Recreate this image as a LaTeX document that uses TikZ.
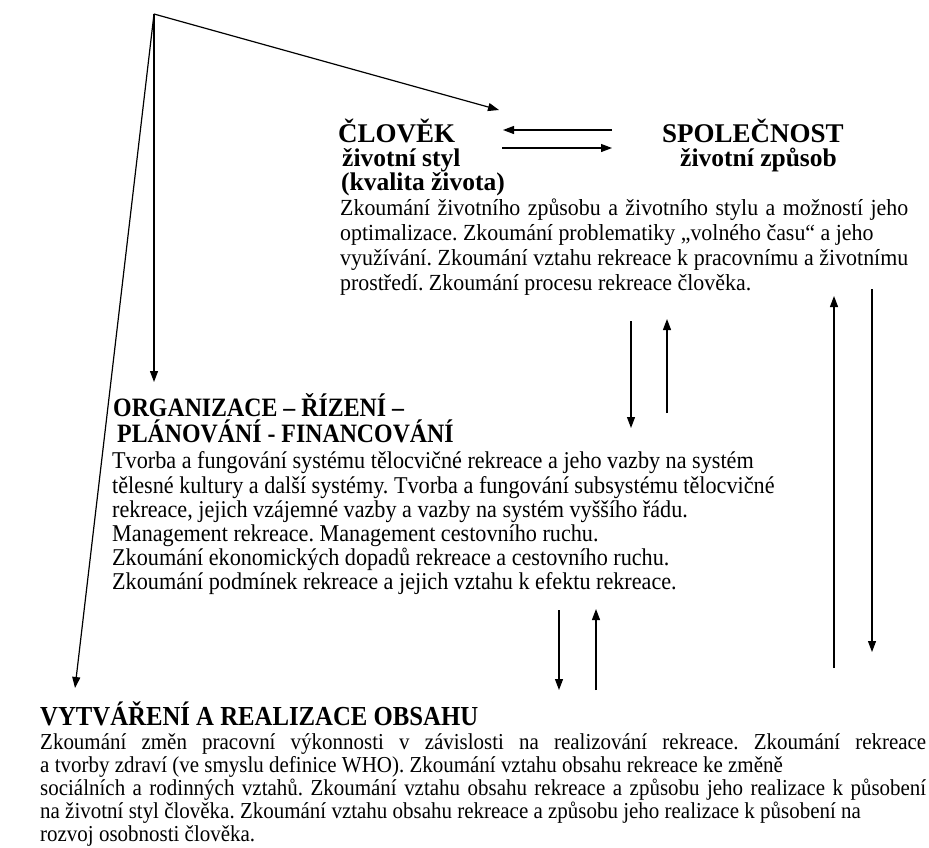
\documentclass[tikz,border=0pt]{standalone}
\usepackage{fontspec}
\setmainfont{Liberation Serif}
\newfontfamily\fonta{Liberation Serif}[FakeStretch=0.95]
\newfontfamily\fontb{Liberation Serif}[FakeStretch=0.92]
\newfontfamily\fonth{Liberation Serif}[FakeStretch=0.9]
\newcommand{\jline}[2]{\makebox[#1][s]{#2}}
\frenchspacing
\usetikzlibrary{arrows.meta}
\begin{document}
\begin{tikzpicture}[x=1pt,y=-1pt,
  txta/.style={anchor=base west,inner sep=0pt,font=\frenchspacing\fonta\fontsize{23.05}{25}\selectfont},
  txtb/.style={anchor=base west,inner sep=0pt,font=\frenchspacing\fontb\fontsize{24.1}{25}\selectfont},
  txtc/.style={anchor=base west,inner sep=0pt,font=\frenchspacing\fontb\fontsize{22.8}{25}\selectfont},
  head/.style={anchor=base west,inner sep=0pt,font=\fontsize{27}{30}\selectfont\bfseries},
  subhead/.style={anchor=base west,inner sep=0pt,font=\fontsize{25.5}{28}\selectfont\bfseries},
  chead/.style={anchor=base west,inner sep=0pt,font=\fonth\fontsize{26.5}{30}\selectfont\bfseries},
  arr/.style={line width=1.2pt,-{Triangle[length=11pt,width=8pt]}}]
\useasboundingbox (0,0) rectangle (929,847);

% top group
\node[head] (clovek) at (338,142) {ČLOVĚK};
\node[subhead] (styl) at (342,166) {životní styl};
\node[subhead] (kval) at (341,190) {(kvalita života)};
\node[head] (spol) at (662,142) {SPOLEČNOST};
\node[subhead] (zpusob) at (680,166) {životní způsob};

\node[txta] (a1) at (340,215) {\jline{568pt}{Zkoumání životního způsobu a životního stylu a možností jeho}};
\node[txta] (a2) at (340,240) {optimalizace. Zkoumání problematiky „volného času“ a jeho};
\node[txta] (a3) at (340,265) {\jline{568pt}{využívání. Zkoumání vztahu rekreace k pracovnímu a životnímu}};
\node[txta] (a4) at (340,290) {prostředí. Zkoumání procesu rekreace člověka.};

% middle group
\node[chead] (org1) at (113,416) {ORGANIZACE – ŘÍZENÍ –};
\node[chead] (org2) at (117,442) {PLÁNOVÁNÍ - FINANCOVÁNÍ};
\node[txtb] (b1) at (112,468.5) {Tvorba a fungování systému tělocvičné rekreace a jeho vazby na systém};
\node[txtb] (b2) at (112,493) {tělesné kultury a další systémy. Tvorba a fungování subsystému tělocvičné};
\node[txtb] (b3) at (112,517.3) {rekreace, jejich vzájemné vazby a vazby na systém vyššího řádu.};
\node[txtb] (b4) at (112,541.5) {Management rekreace. Management cestovního ruchu.};
\node[txtb] (b5) at (112,565.6) {Zkoumání ekonomických dopadů rekreace a cestovního ruchu.};
\node[txtb] (b6) at (112,589.8) {Zkoumání podmínek rekreace a jejich vztahu k efektu rekreace.};

% bottom group
\node[chead,font=\fonth\fontsize{27.5}{30}\selectfont\bfseries] (vyt) at (40,725) {VYTVÁŘENÍ A REALIZACE OBSAHU};
\node[txtc] (c1) at (40,749.5) {\jline{886pt}{Zkoumání změn pracovní výkonnosti v závislosti na realizování rekreace. Zkoumání rekreace}};
\node[txtc] (c2) at (40,772.5) {a tvorby zdraví (ve smyslu definice WHO). Zkoumání vztahu obsahu rekreace ke změně};
\node[txtc] (c3) at (40,795.5) {\jline{886pt}{sociálních a rodinných vztahů. Zkoumání vztahu obsahu rekreace a způsobu jeho realizace k působení}};
\node[txtc] (c4) at (40,818.5) {na životní styl člověka. Zkoumání vztahu obsahu rekreace a způsobu jeho realizace k působení na};
\node[txtc] (c5) at (40,841) {rozvoj osobnosti člověka.};

% connector coordinates
\coordinate (apex) at (154,14);
\coordinate (tipC) at (499,110);
\coordinate (tipO) at (154,382);
\coordinate (tipV) at (75,688);

\coordinate (lr1) at (612,130); \coordinate (lr2) at (503,130);
\coordinate (rl1) at (502,148); \coordinate (rl2) at (612,148);

\coordinate (m1a) at (631,321); \coordinate (m1b) at (631,428);
\coordinate (m2a) at (667,413); \coordinate (m2b) at (667,319);

\coordinate (n1a) at (559,610); \coordinate (n1b) at (559,690);
\coordinate (n2a) at (596,690); \coordinate (n2b) at (596,609);

\coordinate (r1a) at (834,668); \coordinate (r1b) at (834,296);
\coordinate (r2a) at (872,289); \coordinate (r2b) at (872,652);

% connectors
\draw[arr] (apex) -- (tipC);
\draw[arr] (apex) -- (tipO);
\draw[arr] (apex) -- (tipV);
\draw[arr] (lr1) -- (lr2);
\draw[arr] (rl1) -- (rl2);
\draw[arr] (m1a) -- (m1b);
\draw[arr] (m2a) -- (m2b);
\draw[arr] (n1a) -- (n1b);
\draw[arr] (n2a) -- (n2b);
\draw[arr] (r1a) -- (r1b);
\draw[arr] (r2a) -- (r2b);
\end{tikzpicture}
\end{document}
